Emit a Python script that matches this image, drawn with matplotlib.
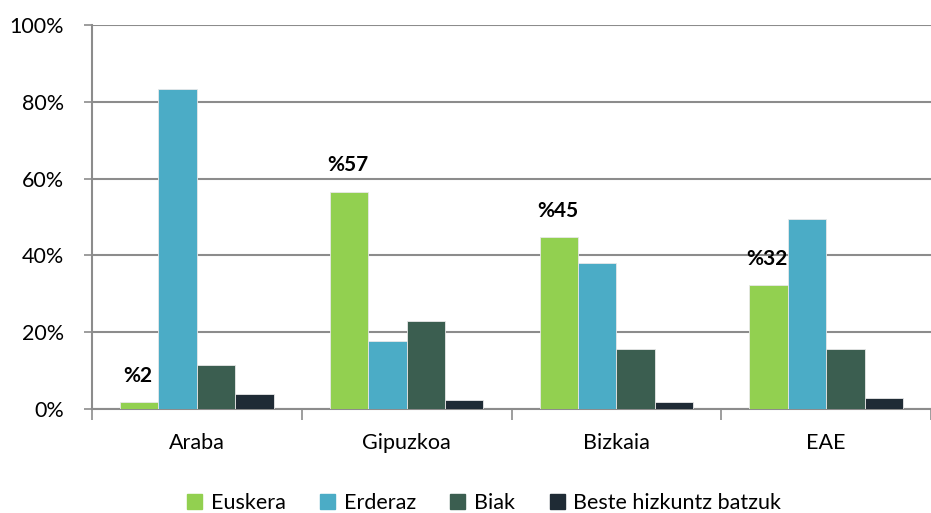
import numpy as np
import matplotlib
matplotlib.use('Agg')
import matplotlib.pyplot as plt
from matplotlib.patches import Patch

plt.rcParams['font.family'] = ['Lato', 'DejaVu Sans']

regions = ['Araba', 'Gipuzkoa', 'Bizkaia', 'EAE']
series = ['Euskera', 'Erderaz', 'Biak', 'Beste hizkuntz batzuk']
euskera = [1.7, 56.6, 44.8, 32.3]
erderaz = [83.3, 17.7, 38.0, 49.4]
biak = [11.5, 22.9, 15.6, 15.6]
beste = [3.9, 2.3, 1.7, 2.8]
euskera_labels = ['%2', '%57', '%45', '%32']
colors = ['#92D050', '#4BACC6', '#3B5E50', '#1F2B35']

fig = plt.figure(figsize=(9.31, 5.13), dpi=100)
ax = fig.add_axes([92/931, 1 - 409/513, 1 - 92/931, 384/513])

x = np.arange(len(regions))
w = 0.183
vals = [euskera, erderaz, biak, beste]
for k, (v, c) in enumerate(zip(vals, colors)):
    ax.bar(x + (k - 1.5) * w, v, w, color=c, edgecolor='#e8e8e8', linewidth=0.6, zorder=3)

for xi, v, lab in zip(x, euskera, euskera_labels):
    ax.annotate(lab, (xi - 1.5 * w, v), xytext=(-1, 19), textcoords='offset points',
                ha='center', va='center', fontsize=15, fontweight='bold', zorder=4)

ax.set_ylim(0, 100)
ax.set_xlim(-0.5, 3.5 - 11/212.5)
ax.set_yticks(np.arange(0, 101, 20))
ax.set_yticklabels([f'{t}%' for t in range(0, 101, 20)], fontsize=15.5)
ax.yaxis.grid(True, color='#8c8c8c', linewidth=1.5, zorder=0)

ax.set_xticks(np.arange(-0.5, 4, 1))
ax.set_xticklabels([])
ax.set_xticks(x, minor=True)
ax.set_xticklabels(regions, minor=True, fontsize=15.5)
ax.tick_params(axis='x', which='major', direction='out', length=8, color='#8c8c8c', width=1.2)
ax.tick_params(axis='x', which='minor', length=0, pad=17)
ax.tick_params(axis='y', direction='out', length=6, color='#8c8c8c', width=1.2, pad=14)

for s in ['top', 'right']:
    ax.spines[s].set_visible(False)
for s in ['left', 'bottom']:
    ax.spines[s].set_color('#8c8c8c')
    ax.spines[s].set_linewidth(1.5)

handles = [Patch(color=c) for c in colors]
fig.legend(handles, series, loc='center', bbox_to_anchor=(0.52, 1 - 503/513), ncol=4,
           frameon=False, fontsize=15.5, handlelength=0.7, handleheight=0.7,
           handletextpad=0.4, columnspacing=1.6)

fig.savefig('out.png', dpi=100)
